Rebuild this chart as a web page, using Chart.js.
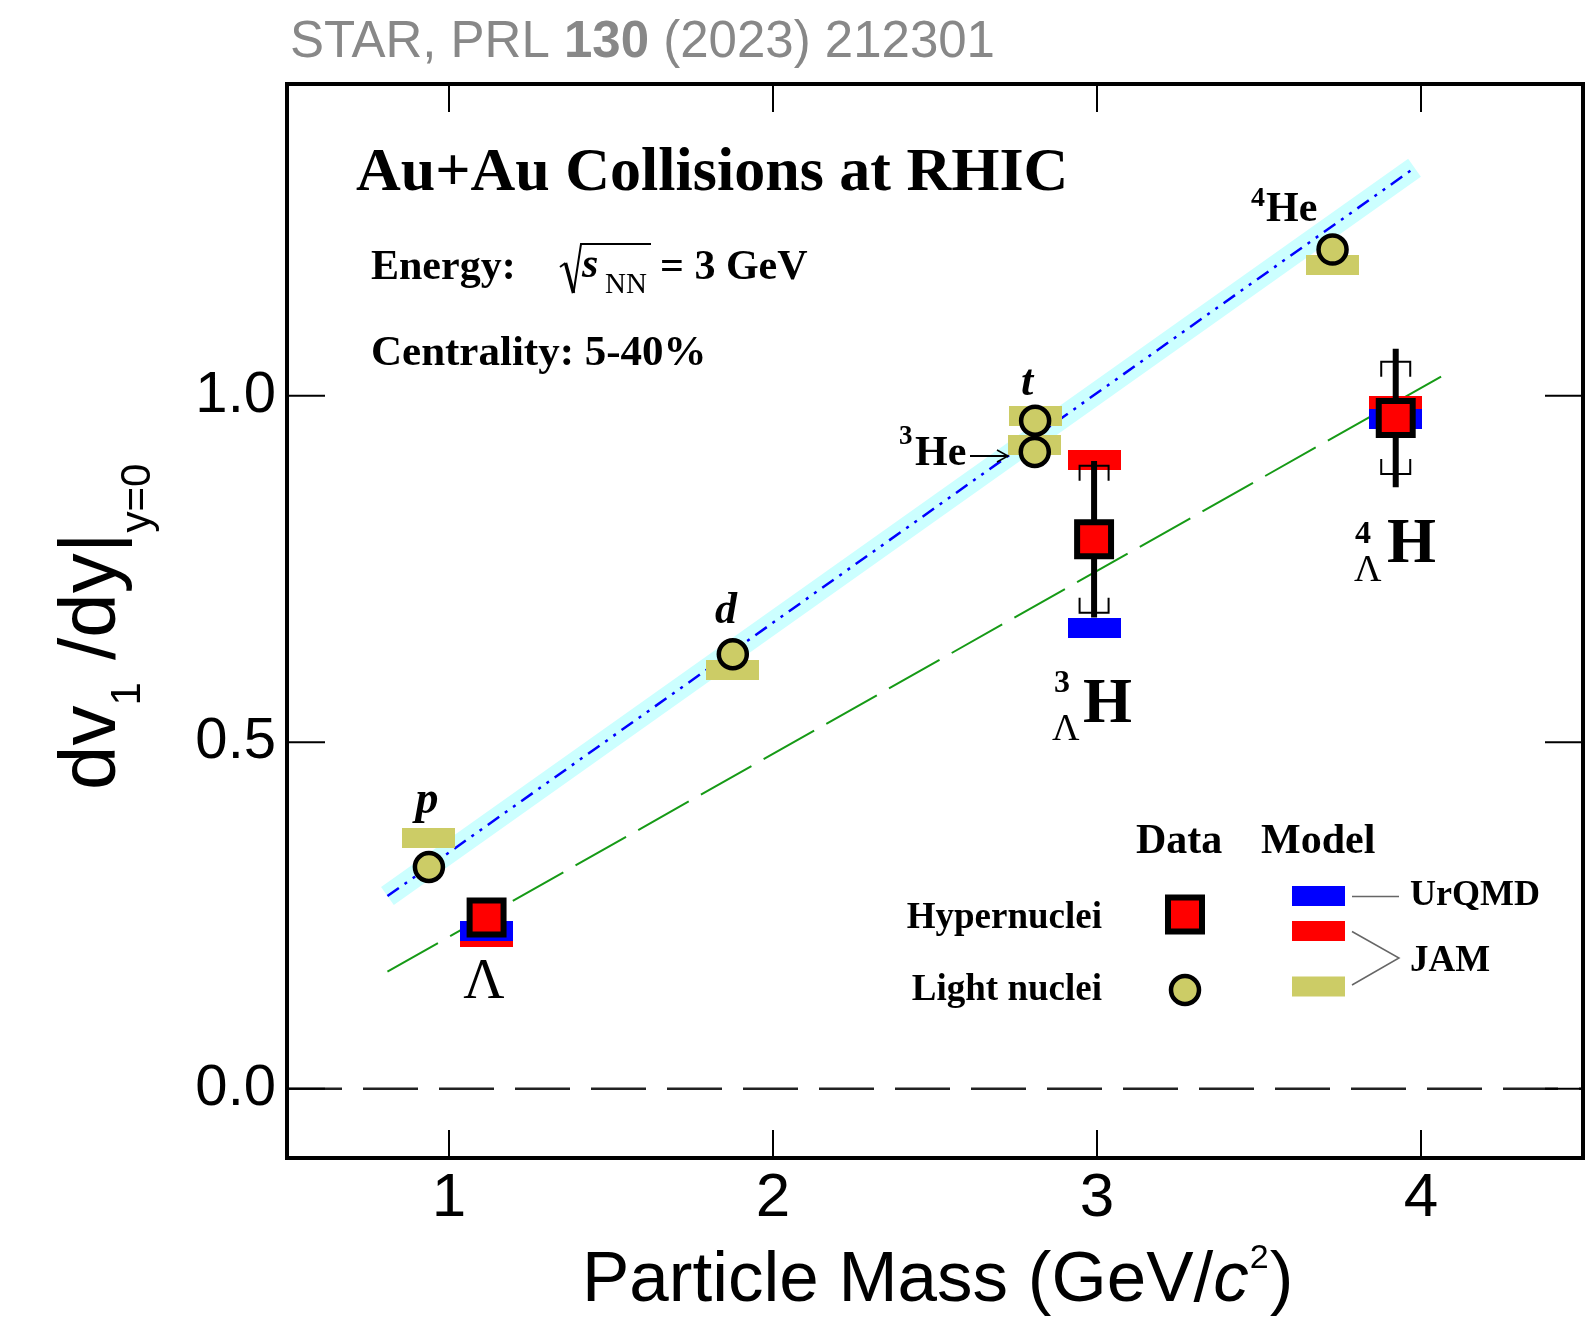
<!DOCTYPE html>
<html><head><meta charset="utf-8">
<script src="https://cdn.jsdelivr.net/npm/chart.js@4/dist/chart.umd.min.js"></script>
<style>html,body{margin:0;padding:0;background:#fff;overflow:hidden}</style>
</head><body><canvas id="c" width="1589" height="1326"></canvas>
<script>
// ---------------- data ----------------
const xTicks = [1, 2, 3, 4];
const yTicks = [0, 0.5, 1.0];
const lightNames = ['p', 'd', 't', '3He', '4He'];
const lightMass = [0.938, 1.876, 2.809, 2.808, 3.727];
const lightV1 = [0.320, 0.627, 0.964, 0.919, 1.211];
const jamLight = [0.362, 0.604, 0.971, 0.929, 1.189];
const hyperNames = ['Lambda', '3LH', '4LH'];
const hyperMass = [1.116, 2.991, 3.922];
const hyperV1 = [0.247, 0.793, 0.968];
const hyperStat = [0.0, 0.113, 0.100];
const hyperSys = [0.0, 0.106, 0.081];
const urqmdHyper = [0.228, 0.665, 0.967];
const jamHyper = [0.219, 0.907, 0.985];
const fitLightX = [0.81, 3.98];
const fitLightY = [0.278, 1.329];
const fitHyperX = [0.81, 4.09];
const fitHyperY = [0.169, 1.035];
const zeroX = [0.5, 4.5];
const zeroY = [0, 0];

// ---------------- styles ----------------
const YELLOW = '#cccc66', RED = '#ff0000', BLUE = '#0000ff';
const BAR_W = 53, BAR_H = 20;
function barCanvas(color) {
  const c = document.createElement('canvas');
  c.width = BAR_W; c.height = BAR_H;
  const g = c.getContext('2d'); g.fillStyle = color; g.fillRect(0, 0, BAR_W, BAR_H);
  return c;
}
const pts = (xs, ys) => xs.map((x, i) => ({x: x, y: ys[i]}));
const SANS = '"Liberation Sans", Arial, Helvetica, sans-serif';
const SERIF = '"Liberation Serif", "Times New Roman", serif';

function txt(ctx, s, x, y, font, align, color) {
  ctx.font = font; ctx.textAlign = align || 'left'; ctx.fillStyle = color || '#000';
  ctx.textBaseline = 'alphabetic'; ctx.fillText(s, x, y);
  return ctx.measureText(s).width;
}
function line(ctx, coords, w, color) {
  ctx.beginPath(); ctx.moveTo(coords[0], coords[1]);
  for (let i = 2; i < coords.length; i += 2) ctx.lineTo(coords[i], coords[i + 1]);
  ctx.lineWidth = w; ctx.strokeStyle = color || '#000'; ctx.stroke();
}

const errorBars = {
  id: 'errorBars',
  beforeDatasetDraw(chart, args) {
    if (args.index !== 7) return;
    const ctx = chart.ctx, xs = chart.scales.x, ys = chart.scales.y;
    ctx.save(); ctx.setLineDash([]); ctx.lineCap = 'butt';
    hyperMass.forEach((m, i) => {
      const px = xs.getPixelForValue(m);
      if (hyperStat[i] > 0) {
        line(ctx, [px, ys.getPixelForValue(hyperV1[i] + hyperStat[i]), px, ys.getPixelForValue(hyperV1[i] - hyperStat[i])], 6);
      }
      if (hyperSys[i] > 0) {
        const t = ys.getPixelForValue(hyperV1[i] + hyperSys[i]);
        const b = ys.getPixelForValue(hyperV1[i] - hyperSys[i]);
        line(ctx, [px - 14.5, t + 15, px - 14.5, t, px + 14.5, t, px + 14.5, t + 15], 2);
        line(ctx, [px - 14.5, b - 15, px - 14.5, b, px + 14.5, b, px + 14.5, b - 15], 2);
      }
    });
    ctx.restore();
  }
};

const decor = {
  id: 'decor',
  afterDraw(chart) {
    const ctx = chart.ctx, a = chart.chartArea, xs = chart.scales.x, ys = chart.scales.y;
    ctx.save(); ctx.setLineDash([]);
    // frame + inward ticks
    ctx.lineWidth = 4; ctx.strokeStyle = '#000';
    ctx.strokeRect(a.left, a.top, a.right - a.left, a.bottom - a.top);
    xTicks.forEach(v => {
      const p = xs.getPixelForValue(v);
      line(ctx, [p, a.bottom, p, a.bottom - 28], 2);
      line(ctx, [p, a.top, p, a.top + 28], 2);
    });
    yTicks.forEach(v => {
      const p = ys.getPixelForValue(v);
      line(ctx, [a.left, p, a.left + 38, p], 2);
      line(ctx, [a.right, p, a.right - 38, p], 2);
    });

    // header
    let hx = 290;
    hx += txt(ctx, 'STAR, PRL ', hx, 57, '51px ' + SANS, 'left', '#888888');
    hx += txt(ctx, '130', hx, 57, 'bold 51px ' + SANS, 'left', '#888888');
    txt(ctx, ' (2023) 212301', hx, 57, '51px ' + SANS, 'left', '#888888');

    // x title
    let tx = 582;
    tx += txt(ctx, 'Particle Mass (GeV/', tx, 1301, '71px ' + SANS);
    tx += txt(ctx, 'c', tx, 1301, 'italic 71px ' + SANS);
    tx += txt(ctx, '2', tx + 1, 1268, '34px ' + SANS) + 2;
    txt(ctx, ')', tx, 1301, '71px ' + SANS);

    // y title
    ctx.save(); ctx.translate(115, 790); ctx.rotate(-Math.PI / 2);
    let yx = 0;
    yx += txt(ctx, 'dv', yx, 0, '80px ' + SANS);
    yx += txt(ctx, '1', yx, 25, '42px ' + SANS);
    yx += txt(ctx, ' /dy|', yx, 0, '80px ' + SANS);
    txt(ctx, 'y=0', yx, 35, '42px ' + SANS);
    ctx.restore();

    // annotations
    txt(ctx, 'Au+Au Collisions at RHIC', 356, 190, 'bold 62px ' + SERIF);
    txt(ctx, 'Energy:', 371, 279, 'bold 42px ' + SERIF);
    line(ctx, [560, 267, 565.5, 263], 2);
    line(ctx, [565.5, 263, 573.5, 293], 3.5);
    line(ctx, [573.5, 293, 581, 244, 651, 244], 2);
    txt(ctx, 's', 582, 277, 'bold italic 42px ' + SERIF);
    txt(ctx, 'NN', 605, 293, '29px ' + SERIF);
    txt(ctx, '= 3 GeV', 660, 279, 'bold 42px ' + SERIF);
    txt(ctx, 'Centrality: 5-40%', 371, 365, 'bold 43px ' + SERIF);

    // particle labels
    txt(ctx, 'p', 427, 813, 'bold italic 46px ' + SERIF, 'center');
    txt(ctx, 'd', 726, 623, 'bold italic 44px ' + SERIF, 'center');
    txt(ctx, 't', 1027, 395, 'bold italic 44px ' + SERIF, 'center');
    txt(ctx, '3', 899, 444, 'bold 27px ' + SERIF);
    txt(ctx, 'He', 915, 465, 'bold 42px ' + SERIF);
    line(ctx, [970, 456, 1008, 456], 2);
    line(ctx, [997, 450, 1008, 456, 997, 462], 1.5);
    txt(ctx, '4', 1251, 206, 'bold 28px ' + SERIF);
    txt(ctx, 'He', 1266, 221, 'bold 42px ' + SERIF);
    txt(ctx, 'Λ', 484, 998, '57px ' + SERIF, 'center');
    txt(ctx, '3', 1054, 692, 'bold 32px ' + SERIF);
    txt(ctx, 'Λ', 1052, 740, '38px ' + SERIF);
    txt(ctx, 'H', 1083, 722, 'bold 63px ' + SERIF);
    txt(ctx, '4', 1355, 543, 'bold 32px ' + SERIF);
    txt(ctx, 'Λ', 1354, 581, '38px ' + SERIF);
    txt(ctx, 'H', 1387, 562, 'bold 63px ' + SERIF);

    // legend
    txt(ctx, 'Data', 1136, 853, 'bold 42px ' + SERIF);
    txt(ctx, 'Model', 1261, 853, 'bold 42px ' + SERIF);
    txt(ctx, 'Hypernuclei', 1102, 928, 'bold 37px ' + SERIF, 'right');
    txt(ctx, 'Light nuclei', 1102, 1000, 'bold 37px ' + SERIF, 'right');
    ctx.fillStyle = RED; ctx.fillRect(1168, 897.5, 34, 34);
    ctx.lineWidth = 6; ctx.strokeStyle = '#000'; ctx.strokeRect(1168, 897.5, 34, 34);
    ctx.beginPath(); ctx.arc(1185, 990, 14, 0, 2 * Math.PI);
    ctx.fillStyle = YELLOW; ctx.fill(); ctx.lineWidth = 4.5; ctx.stroke();
    ctx.fillStyle = BLUE; ctx.fillRect(1292, 886, BAR_W, BAR_H);
    ctx.fillStyle = RED; ctx.fillRect(1292, 921, BAR_W, BAR_H);
    ctx.fillStyle = YELLOW; ctx.fillRect(1292, 976.5, BAR_W, BAR_H);
    line(ctx, [1352, 896.5, 1399, 896.5], 1.5, '#666');
    line(ctx, [1352, 931.5, 1399, 958, 1352, 985], 1.5, '#666');
    txt(ctx, 'UrQMD', 1410, 905, 'bold 36px ' + SERIF);
    txt(ctx, 'JAM', 1410, 971, 'bold 37px ' + SERIF);
    ctx.restore();
  }
};

new Chart(document.getElementById('c'), {
  type: 'scatter',
  data: {
    datasets: [
      {label: 'band', data: pts(fitLightX, fitLightY), showLine: true, borderColor: '#ccffff', borderWidth: 22,
       borderCapStyle: 'butt', pointRadius: 0, order: 100},
      {label: 'fit light', data: pts(fitLightX, fitLightY), showLine: true, borderColor: BLUE, borderWidth: 2.5,
       borderDash: [14, 7, 3, 7, 3, 7], pointRadius: 0, order: 90},
      {label: 'fit hyper', data: pts(fitHyperX, fitHyperY), showLine: true, borderColor: '#169a16', borderWidth: 2,
       borderDash: [58, 14], pointRadius: 0, order: 89},
      {label: 'zero', data: pts(zeroX, zeroY), showLine: true, borderColor: '#222', borderWidth: 2.5,
       borderDash: [55, 21], pointRadius: 0, order: 88},
      {label: 'JAM hyper', data: pts(hyperMass, jamHyper), pointStyle: barCanvas(RED), pointRadius: 1, order: 80},
      {label: 'UrQMD hyper', data: pts(hyperMass, urqmdHyper), pointStyle: barCanvas(BLUE), pointRadius: 1, order: 79},
      {label: 'JAM light', data: pts(lightMass, jamLight), pointStyle: barCanvas(YELLOW), pointRadius: 1, order: 78},
      {label: 'Light nuclei', data: pts(lightMass, lightV1), pointStyle: 'circle', pointRadius: 14,
       pointBorderWidth: 4.5, pointBackgroundColor: YELLOW, pointBorderColor: '#000', order: 10},
      {label: 'Hypernuclei', data: pts(hyperMass, hyperV1), pointStyle: 'rect', pointRadius: 24,
       pointBorderWidth: 6, pointBackgroundColor: RED, pointBorderColor: '#000', order: 5}
    ]
  },
  options: {
    responsive: false, animation: false, events: [],
    layout: {autoPadding: false, padding: {left: 0, right: 6, top: 84, bottom: 0}},
    plugins: {legend: {display: false}, tooltip: {enabled: false}},
    scales: {
      x: {type: 'linear', min: 0.5, max: 4.5,
          grid: {display: false, drawTicks: false}, border: {display: false},
          afterBuildTicks: s => { s.ticks = xTicks.map(v => ({value: v})); },
          afterFit: s => { s.height = 168; s.paddingLeft = 0; s.paddingRight = 0; },
          ticks: {font: {family: SANS, size: 62}, color: '#000', padding: 4, maxRotation: 0,
                  callback: v => String(v)}},
      y: {type: 'linear', min: -0.1, max: 1.45,
          grid: {display: false, drawTicks: false}, border: {display: false},
          afterBuildTicks: s => { s.ticks = yTicks.map(v => ({value: v})); },
          afterFit: s => { s.width = 287; s.paddingTop = 0; s.paddingBottom = 0; },
          ticks: {font: {family: SANS, size: 58}, color: '#000', padding: 11,
                  callback: v => Number(v).toFixed(1)}}
    }
  },
  plugins: [errorBars, decor]
});
</script>
</body></html>
